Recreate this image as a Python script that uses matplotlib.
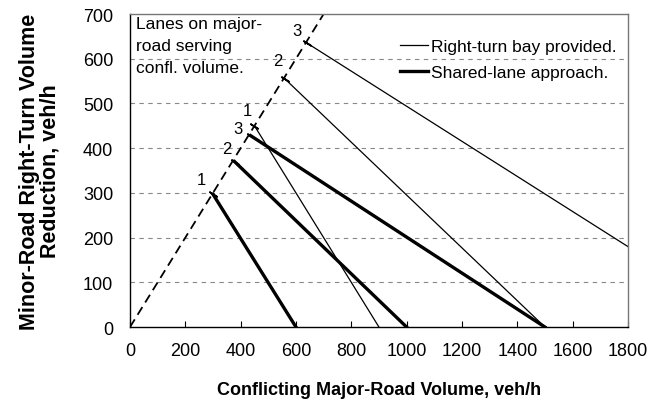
import matplotlib
matplotlib.use("Agg")
import matplotlib.pyplot as plt

plt.rcParams["font.family"] = ["Liberation Sans", "DejaVu Sans"]

# Lane counts on the major road serving the conflicting volume
lanes = ["1", "2", "3"]

# Right-turn bay provided (thin lines)
bay_start_x = [450, 560, 640]
bay_start_y = [450, 555, 635]
bay_end_x = [900, 1500, 1800]
bay_end_y = [0, 0, 180]

# Shared-lane approach (thick lines)
shared_start_x = [300, 378, 436]
shared_start_y = [297, 370, 428]
shared_end_x = [600, 1000, 1500]
shared_end_y = [0, 0, 0]

# Boundary (dashed line)
boundary_x = [0, 700]
boundary_y = [0, 700]

x_ticks = [0, 200, 400, 600, 800, 1000, 1200, 1400, 1600, 1800]
y_ticks = [0, 100, 200, 300, 400, 500, 600, 700]

# label offsets in pixels from each line's starting point
bay_label_offsets = [(-7, 15), (-7, 18), (-10, 13)]
shared_label_offsets = [(-12, 15), (-8, 13), (-13, 7)]

fig = plt.figure(figsize=(6.5, 4.06), dpi=100)
ax = fig.add_axes([0.2, 0.192, 0.766, 0.771])

for y in y_ticks[1:-1]:
    ax.axhline(y, color="#888888", linestyle=(0, (4, 4)), linewidth=0.8, zorder=0)

ax.plot(boundary_x, boundary_y, color="black", linestyle=(0, (5, 3)), linewidth=1.3)

for i in range(len(lanes)):
    ax.plot([bay_start_x[i], bay_end_x[i]], [bay_start_y[i], bay_end_y[i]],
            color="black", linewidth=0.9,
            label="Right-turn bay provided." if i == 0 else None)
    ax.plot([shared_start_x[i], shared_end_x[i]], [shared_start_y[i], shared_end_y[i]],
            color="black", linewidth=2.4,
            label="Shared-lane approach." if i == 0 else None)

# small perpendicular marks where lines meet the boundary
start_x = bay_start_x + shared_start_x
start_y = bay_start_y + shared_start_y
ax.plot(start_x, start_y, linestyle="none", marker=(2, 2, 58), markersize=7,
        markeredgewidth=1.2, color="black")

for i, lane in enumerate(lanes):
    ax.annotate(lane, (bay_start_x[i], bay_start_y[i]), xytext=bay_label_offsets[i],
                textcoords="offset pixels", ha="center", va="center", fontsize=12)
    ax.annotate(lane, (shared_start_x[i], shared_start_y[i]), xytext=shared_label_offsets[i],
                textcoords="offset pixels", ha="center", va="center", fontsize=12)

ax.text(0.012, 0.995, "Lanes on major-\nroad serving\nconfl. volume.",
        transform=ax.transAxes, ha="left", va="top", fontsize=12.5, linespacing=1.6)

ax.legend(loc="upper left", bbox_to_anchor=(0.542, 0.922), frameon=False, fontsize=12.5,
          borderpad=0, borderaxespad=0,
          handlelength=1.6, handletextpad=0.2, labelspacing=0.65)

ax.set_xlim(0, 1800)
ax.set_ylim(0, 700)
ax.set_xticks(x_ticks)
ax.set_yticks(y_ticks)
ax.tick_params(axis="x", direction="in", length=4, labelsize=13, pad=11)
ax.tick_params(axis="y", length=0, labelsize=13, pad=12)
for side in ("top", "right"):
    ax.spines[side].set_color("#777777")
for spine in ax.spines.values():
    spine.set_linewidth(1.0)

ax.set_xlabel("Conflicting Major-Road Volume, veh/h", fontsize=13, fontweight="bold", labelpad=15.5)
ax.set_ylabel("Minor-Road Right-Turn Volume\nReduction, veh/h", fontsize=15.5,
              fontweight="bold", labelpad=16, linespacing=1.0)

fig.savefig("out.png", dpi=100)
plt.close(fig)
